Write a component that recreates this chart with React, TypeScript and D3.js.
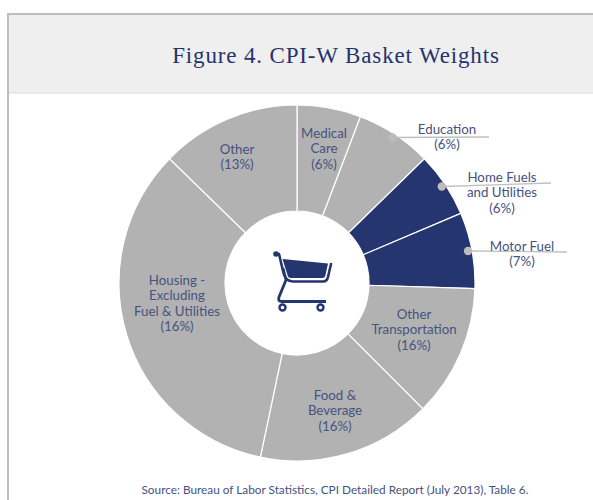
import React from "react";
import * as d3 from "d3";

const categories = ["Medical Care", "Education", "Home Fuels and Utilities", "Motor Fuel", "Other Transportation", "Food & Beverage", "Housing - Excluding Fuel & Utilities", "Other"];
// slice sizes as drawn (the printed percentages do not match the drawn slices)
const drawnShare = [5.8, 6.9, 5.9, 6.9, 12, 15.8, 34, 12.7];
const printedPct = [6, 6, 6, 7, 16, 16, 16, 13];
const highlighted = ["Home Fuels and Utilities", "Motor Fuel"];
const calledOut = ["Education", "Home Fuels and Utilities", "Motor Fuel"];

const W = 593;
const H = 500;
const cx = 297;
const cy = 283;
const navy = "#243570";
const grey = "#b2b2b2";
const textColor = "#46527f";
const labelFont = "Lato, 'Open Sans', sans-serif";

// label placement: centre x, first baseline y, wrapped lines
const labelLayout = [
  { x: 324, y: 138, lines: ["Medical", "Care"] },
  { x: 447, y: 134, lines: ["Education"] },
  { x: 502, y: 182, lines: ["Home Fuels", "and Utilities"] },
  { x: 522, y: 251, lines: ["Motor Fuel"] },
  { x: 414, y: 319, lines: ["Other", "Transportation"] },
  { x: 335, y: 400, lines: ["Food &", "Beverage"] },
  { x: 177, y: 285, lines: ["Housing -", "Excluding", "Fuel & Utilities"] },
  { x: 237, y: 154, lines: ["Other"] },
];
const leaderEnd = { Education: [489, 137], "Home Fuels and Utilities": [551, 183], "Motor Fuel": [567, 252] };

const pie = d3.pie<number>().sort(null).value((d) => d);
const arcs = pie(drawnShare);
const sliceArc = d3.arc<d3.PieArcDatum<number>>().innerRadius(72).outerRadius(178);
const dotArc = d3.arc<d3.PieArcDatum<number>>().innerRadius(174).outerRadius(174);

const Cart = () => (
  <g>
    <path d="M276 254 L279 254 L283 271 Q285 281.5 293 281.5 L323 281.5 Q327 281.5 328 277 L331 264" fill="none" stroke={navy} strokeWidth={2.6} strokeLinecap="round" strokeLinejoin="round" />
    <path d="M283 268 L286 280 L279 297 Q277.5 301.5 282 301.5 L326 301.5" fill="none" stroke={navy} strokeWidth={2.8} strokeLinejoin="round" />
    <circle cx={276} cy={254} r={2.8} fill={navy} />
    <path d="M282.5 259 L328 263.5 L325.5 275 Q325 278 322 278 L291 278 Q288 278 287.5 275 Z" fill={navy} />
    <circle cx={282.5} cy={307.5} r={3} fill="none" stroke={navy} strokeWidth={2.4} />
    <circle cx={320.5} cy={307.5} r={3} fill="none" stroke={navy} strokeWidth={2.4} />
  </g>
);

export default function App() {
  return (
    <svg width={W} height={H} style={{ position: "absolute", left: 0, top: 0, background: "#fff" }}>
      <rect x={8} y={14} width={W} height={79} fill="#efefef" />
      <line x1={8} x2={W} y1={93} y2={93} stroke="#dcdcdc" strokeWidth={1} />
      <path d={`M8 ${H} L8 14 L${W} 14`} fill="none" stroke="#bdbdbd" strokeWidth={2} />
      <text x={336} y={63} textAnchor="middle" fontFamily="'Liberation Serif', serif" fontSize={23} letterSpacing={0.85} fill="#24336b">
        Figure 4. CPI-W Basket Weights
      </text>

      <g transform={`translate(${cx},${cy})`}>
        {arcs.map((a, i) => (
          <path key={categories[i]} d={sliceArc(a) ?? ""} fill={highlighted.includes(categories[i]) ? navy : grey} stroke="#fff" strokeWidth={1.2} />
        ))}
      </g>
      <Cart />

      {arcs.map((a, i) => {
        const name = categories[i];
        if (!calledOut.includes(name)) return null;
        const [dx, dy] = dotArc.centroid(a);
        const end = leaderEnd[name as keyof typeof leaderEnd];
        return (
          <g key={name}>
            <line x1={cx + dx} y1={cy + dy} x2={end[0]} y2={end[1]} stroke="#c0c0c0" strokeWidth={1.4} />
            <circle cx={cx + dx} cy={cy + dy} r={4.2} fill="#bcbcbc" />
          </g>
        );
      })}

      {labelLayout.map((l, i) => (
        <text key={categories[i]} textAnchor="middle" fontFamily={labelFont} fontSize={13.3} fill={textColor}>
          {[...l.lines, `(${printedPct[i]}%)`].map((t, j) => (
            <tspan key={j} x={l.x} y={l.y + j * 15.3}>{t}</tspan>
          ))}
        </text>
      ))}

      <text x={335} y={494} textAnchor="middle" fontFamily={labelFont} fontSize={11.8} fill={textColor}>
        Source: Bureau of Labor Statistics, CPI Detailed Report (July 2013), Table 6.
      </text>
    </svg>
  );
}
